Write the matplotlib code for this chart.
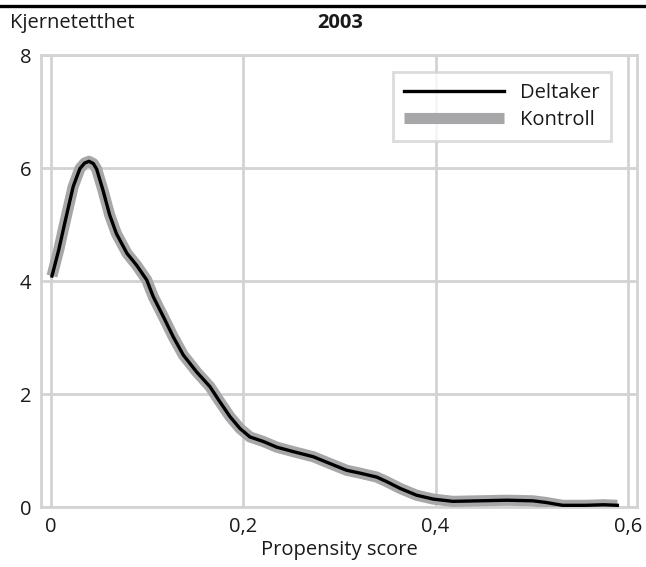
# ── 0. IMPORTS ───────────────────────────────────────────────────────────
import matplotlib
matplotlib.use("Agg")
import matplotlib.pyplot as plt
from matplotlib.lines import Line2D


# ── 1. DATA ──────────────────────────────────────────────────────────────
propensity = [0.001, 0.008, 0.015, 0.023, 0.030, 0.035, 0.0395, 0.044, 0.0475,
              0.054, 0.061, 0.068, 0.079, 0.089, 0.0995, 0.1064, 0.1168,
              0.1272, 0.1376, 0.1515, 0.1653, 0.1757, 0.1861, 0.1965, 0.2069,
              0.2208, 0.2347, 0.252, 0.2728, 0.290, 0.3075, 0.3213, 0.3387,
              0.349, 0.363, 0.380, 0.3975, 0.418, 0.446, 0.474, 0.501, 0.515,
              0.532, 0.556, 0.575, 0.589]
density_deltaker = [4.09, 4.55, 5.08, 5.67, 5.99, 6.09, 6.12, 6.08, 5.98,
                    5.61, 5.17, 4.84, 4.49, 4.28, 4.02, 3.72, 3.37,
                    3.01, 2.69, 2.39, 2.13, 1.86, 1.60, 1.39, 1.24,
                    1.16, 1.06, 0.98, 0.89, 0.77, 0.65, 0.60, 0.53,
                    0.45, 0.33, 0.21, 0.14, 0.10, 0.11, 0.12, 0.11, 0.08,
                    0.03, 0.03, 0.04, 0.03]
density_kontroll = list(density_deltaker)  # matched sample: curves coincide

x_ticks = [0, 0.2, 0.4, 0.6]
x_ticklabels = ["0", "0,2", "0,4", "0,6"]
y_ticks = [0, 2, 4, 6, 8]
y_ticklabels = ["0", "2", "4", "6", "8"]


# ── 2. STYLE ─────────────────────────────────────────────────────────────
plt.rcParams["font.family"] = ["Open Sans", "DejaVu Sans"]
grid_col = "#d3d3d3"
ctrl_col = "#a7a7a9"
txt_col = "#1a1a1a"
fs = 14.5


# ── 3. FIGURE ────────────────────────────────────────────────────────────
fig = plt.figure(figsize=(6.46, 5.67), dpi=100)
ax = fig.add_axes([0.0635, 0.1058, 0.9225, 0.797])

ax.plot(propensity, density_kontroll, color=ctrl_col, linewidth=8,
        solid_capstyle="butt", solid_joinstyle="round",
        label="Kontroll", zorder=3)
ax.plot(propensity, density_deltaker, color="black", linewidth=2.4,
        solid_joinstyle="round", label="Deltaker", zorder=4)

ax.set_xlim(-0.0104, 0.6094)
ax.set_ylim(0, 8)
ax.set_xticks(x_ticks)
ax.set_xticklabels(x_ticklabels)
ax.set_yticks(y_ticks)
ax.set_yticklabels(y_ticklabels)
ax.tick_params(length=0, labelsize=fs, colors=txt_col, pad=7)
ax.grid(True, color=grid_col, linewidth=2.0)
ax.set_axisbelow(True)
for sp in ax.spines.values():
    sp.set_color(grid_col)
    sp.set_linewidth(2.0)

ax.set_xlabel("Propensity score", fontsize=fs, color=txt_col, labelpad=2)

# legend: Deltaker first
handles, labels = ax.get_legend_handles_labels()
order = [1, 0]
leg = ax.legend([handles[i] for i in order], [labels[i] for i in order],
                loc="upper right", bbox_to_anchor=(0.9458, 0.873),
                bbox_transform=fig.transFigure, borderaxespad=0,
                fontsize=fs, handlelength=5.0, handletextpad=0.8,
                labelspacing=0.35, borderpad=0.55, fancybox=False)
leg.get_frame().set_edgecolor(grid_col)
leg.get_frame().set_linewidth(2.0)
for t in leg.get_texts():
    t.set_color(txt_col)

# header rule and titles
fig.add_artist(Line2D([0, 1], [1 - 6 / 567, 1 - 6 / 567], color="black",
                      linewidth=2.4, transform=fig.transFigure))
fig.text(10 / 646, 1 - 23 / 567, "Kjernetetthet", fontsize=fs,
         color=txt_col, ha="left", va="center")
fig.text(340 / 646, 1 - 23 / 567, "2003", fontsize=fs, fontweight="bold",
         color=txt_col, ha="center", va="center")

fig.savefig("out.png", dpi=100)
plt.close()
